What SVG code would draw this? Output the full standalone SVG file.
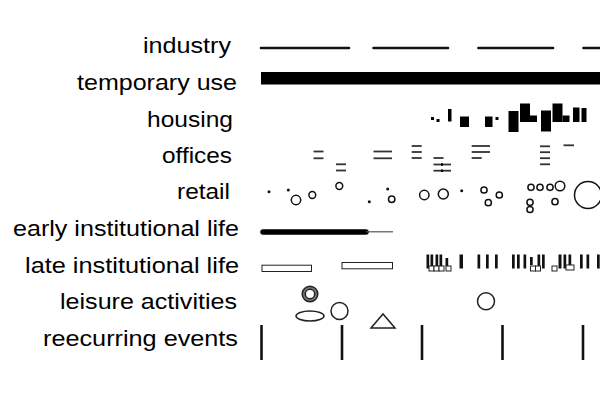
<svg xmlns="http://www.w3.org/2000/svg" width="600" height="400" viewBox="0 0 600 400">
<style>
.lbl{font-family:"Liberation Sans",Arial,sans-serif;font-size:22.5px;fill:#000;text-anchor:end}
.ind{stroke:#111;stroke-width:2.6;stroke-linecap:round}
.off{stroke:#333;stroke-width:1.8}
.dot{fill:#111}
.ring{fill:none;stroke:#111;stroke-width:1.5}
.bar{fill:#111}
.sq{fill:#fff;stroke:#222;stroke-width:1}
.ev{stroke:#111;stroke-width:2.6}
.leis{fill:none;stroke:#222;stroke-width:1.5}
</style>
<rect width="600" height="400" fill="#fff"/>

<g id="labels">
<text class="lbl" x="231" y="52.5" textLength="88" lengthAdjust="spacingAndGlyphs">industry</text>
<text class="lbl" x="237" y="89.5" textLength="160" lengthAdjust="spacingAndGlyphs">temporary use</text>
<text class="lbl" x="233" y="126.5" textLength="86" lengthAdjust="spacingAndGlyphs">housing</text>
<text class="lbl" x="232" y="163" textLength="70" lengthAdjust="spacingAndGlyphs">offices</text>
<text class="lbl" x="230" y="199" textLength="53" lengthAdjust="spacingAndGlyphs">retail</text>
<text class="lbl" x="239" y="236" textLength="226" lengthAdjust="spacingAndGlyphs">early institutional life</text>
<text class="lbl" x="239" y="272.5" textLength="214" lengthAdjust="spacingAndGlyphs">late institutional life</text>
<text class="lbl" x="237" y="309" textLength="177" lengthAdjust="spacingAndGlyphs">leisure activities</text>
<text class="lbl" x="238" y="346" textLength="195" lengthAdjust="spacingAndGlyphs">reecurring events</text>
</g>

<g id="industry">
<line class="ind" x1="261" y1="48" x2="349" y2="48"/>
<line class="ind" x1="373.5" y1="48" x2="448" y2="48"/>
<line class="ind" x1="478.5" y1="48" x2="553" y2="48"/>
<line class="ind" x1="583.5" y1="48" x2="605" y2="48"/>
</g>

<g id="temporary-use">
<rect x="261" y="72" width="340" height="12.5" fill="#000"/>
</g>

<g id="housing" fill="#000">
<rect x="431" y="117" width="3" height="3"/>
<rect x="436.5" y="119" width="3" height="3"/>
<rect x="448" y="109" width="3.5" height="12.5"/>
<rect x="460" y="116.5" width="9" height="10.5"/>
<rect x="485" y="116.5" width="7.5" height="10.5"/>
<rect x="495.5" y="117" width="3" height="3"/>
<rect x="508.5" y="111" width="10" height="21"/>
<rect x="520" y="103.5" width="10" height="18.5"/>
<rect x="530" y="115.5" width="7" height="6.5"/>
<rect x="541" y="110.5" width="10" height="21"/>
<rect x="552.5" y="103.5" width="10" height="18.5"/>
<rect x="562.5" y="115.5" width="7" height="6.5"/>
<rect x="573" y="107.5" width="6.5" height="14.5"/>
<rect x="581.5" y="108" width="5" height="14"/>
</g>

<g id="offices">
<line class="off" x1="313.5" y1="151.5" x2="323.5" y2="151.5"/>
<line class="off" x1="313.5" y1="158.3" x2="323.5" y2="158.3"/>
<line class="off" x1="336" y1="164.3" x2="346" y2="164.3"/>
<line class="off" x1="336" y1="170.5" x2="346" y2="170.5"/>
<line class="off" x1="373.5" y1="151.5" x2="392" y2="151.5"/>
<line class="off" x1="373.5" y1="158.3" x2="392" y2="158.3"/>
<line class="off" x1="411.7" y1="146" x2="421.7" y2="146"/>
<line class="off" x1="411.7" y1="152" x2="421.7" y2="152"/>
<line class="off" x1="411.7" y1="158" x2="421.7" y2="158"/>
<line class="off" x1="433.5" y1="158" x2="443.5" y2="158"/>
<line class="off" x1="433.5" y1="164.5" x2="451" y2="164.5"/>
<line class="off" x1="433.5" y1="170.7" x2="451" y2="170.7"/>
<rect x="441" y="163.3" width="2" height="2.5" fill="#000"/>
<rect x="441" y="169.5" width="2" height="2.5" fill="#000"/>
<line class="off" x1="471.7" y1="146" x2="490" y2="146"/>
<line class="off" x1="471.7" y1="152" x2="490" y2="152"/>
<line class="off" x1="471.7" y1="158" x2="481.7" y2="158"/>
<line class="off" x1="540" y1="146.3" x2="550" y2="146.3"/>
<line class="off" x1="540" y1="152.2" x2="550" y2="152.2"/>
<line class="off" x1="540" y1="158.2" x2="550" y2="158.2"/>
<line class="off" x1="540" y1="164.3" x2="550" y2="164.3"/>
<line class="off" x1="563.5" y1="145.3" x2="574" y2="145.3"/>
</g>

<g id="retail">
<circle class="dot" cx="269" cy="191.7" r="1.5"/>
<circle class="dot" cx="288.3" cy="190" r="1.5"/>
<circle class="ring" cx="296" cy="200" r="4.7"/>
<circle class="ring" cx="312.3" cy="195" r="3.4"/>
<circle class="ring" cx="339.3" cy="186" r="3.4"/>
<circle class="dot" cx="369.3" cy="201.7" r="1.5"/>
<circle class="dot" cx="387.7" cy="189" r="1.5"/>
<circle class="ring" cx="391.7" cy="199.3" r="3.2"/>
<circle class="ring" cx="424.3" cy="195" r="4.7"/>
<circle class="ring" cx="443.3" cy="194" r="5"/>
<circle class="dot" cx="461.7" cy="190.7" r="1.5"/>
<circle class="ring" cx="484" cy="190" r="3.1"/>
<circle class="ring" cx="488.3" cy="202.7" r="3.1"/>
<circle class="ring" cx="499.3" cy="195" r="3.1"/>
<circle class="ring" cx="531" cy="187.3" r="3.1"/>
<circle class="ring" cx="540" cy="187.3" r="3.1"/>
<circle class="ring" cx="550" cy="187.3" r="3.1"/>
<circle class="ring" cx="560" cy="186" r="4.8"/>
<circle class="ring" cx="530" cy="202.3" r="3.1"/>
<circle class="ring" cx="530" cy="209.5" r="3.1"/>
<circle class="ring" cx="555" cy="201.7" r="3.1"/>
<circle class="ring" cx="588" cy="195" r="13.5"/>
</g>

<g id="early-institutional-life">
<line x1="263" y1="232" x2="366" y2="232" stroke="#000" stroke-width="5.5" stroke-linecap="round"/>
<line x1="366" y1="231.8" x2="393" y2="231.8" stroke="#555" stroke-width="1.2"/>
</g>

<g id="late-institutional-life">
<rect class="sq" x="262" y="265.2" width="49.5" height="6.3" stroke-width="1.5"/>
<rect class="sq" x="342" y="262.5" width="50.5" height="6.3" stroke-width="1.5"/>
<rect class="bar" x="426.5" y="254.5" width="2.7" height="14"/>
<rect class="bar" x="430.5" y="254.5" width="2.7" height="14"/>
<rect class="bar" x="435.5" y="254.5" width="2.7" height="14"/>
<rect class="bar" x="439.5" y="254.5" width="2.7" height="14"/>
<rect class="bar" x="445.5" y="258" width="2.7" height="8"/>
<rect class="sq" x="429" y="266" width="5" height="5"/>
<rect class="sq" x="434" y="266" width="5" height="5"/>
<rect class="sq" x="439" y="266" width="5" height="5"/>
<rect class="sq" x="446" y="266" width="5" height="5"/>
<rect class="bar" x="459.5" y="254.5" width="3.5" height="14"/>
<rect class="bar" x="477.5" y="254.5" width="2.7" height="14"/>
<rect class="bar" x="486" y="254.5" width="2.7" height="14"/>
<rect class="bar" x="495" y="254.5" width="2.7" height="14"/>
<rect class="bar" x="512" y="254.5" width="2.7" height="14"/>
<rect class="bar" x="517" y="254.5" width="2.7" height="14"/>
<rect class="bar" x="523.5" y="254.5" width="2.7" height="14"/>
<rect class="bar" x="530" y="257" width="2.7" height="8"/>
<rect class="bar" x="537.5" y="254.5" width="2.7" height="14"/>
<rect class="bar" x="542" y="254.5" width="2.7" height="14"/>
<rect class="sq" x="530.5" y="266" width="5" height="5"/>
<rect class="sq" x="535.5" y="266" width="5" height="5"/>
<rect class="sq" x="552" y="266" width="5" height="5"/>
<rect class="bar" x="558.5" y="254.5" width="3" height="14"/>
<rect class="bar" x="563.5" y="254.5" width="2.7" height="14"/>
<rect class="bar" x="568.5" y="254.5" width="2.7" height="14"/>
<rect class="sq" x="566" y="265" width="8" height="5"/>
<rect class="bar" x="580" y="254.5" width="2.7" height="14"/>
<rect class="bar" x="586.5" y="254.5" width="2.7" height="14"/>
<rect class="bar" x="597" y="254.5" width="2.7" height="14"/>
</g>

<g id="leisure-activities">
<circle cx="310" cy="294" r="6.3" fill="none" stroke="#777" stroke-width="2.6"/>
<circle class="leis" cx="310" cy="294" r="7.8"/>
<circle class="leis" cx="310" cy="294" r="4.7"/>
<ellipse class="leis" cx="310" cy="316" rx="14" ry="5"/>
<circle class="leis" cx="339.5" cy="311" r="8.5"/>
<polygon class="leis" points="371,328 383,314 395,328"/>
<circle class="leis" cx="486" cy="301.3" r="8.5"/>
</g>

<g id="reecurring-events">
<line class="ev" x1="261.5" y1="325" x2="261.5" y2="360"/>
<line class="ev" x1="342" y1="325" x2="342" y2="360"/>
<line class="ev" x1="422" y1="325" x2="422" y2="360"/>
<line class="ev" x1="502.5" y1="325" x2="502.5" y2="360"/>
<line class="ev" x1="583" y1="325" x2="583" y2="360"/>
</g>
</svg>
